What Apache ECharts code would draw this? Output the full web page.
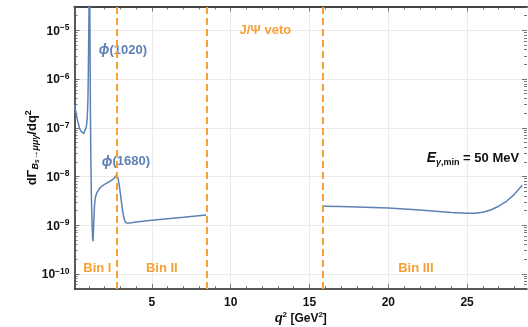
<!DOCTYPE html>
<html>
<head>
<meta charset="utf-8">
<script src="https://cdn.jsdelivr.net/npm/echarts@6/dist/echarts.min.js"></script>
<style>
html, body { margin: 0; padding: 0; background: #fff; }
#main { width: 528px; height: 327px; }
</style>
</head>
<body>
<div id="main"></div>
<script>
// q^2 in GeV^2, dGamma/dq^2
const q2Low = [0.09, 0.2, 0.3, 0.4, 0.5, 0.6, 0.68, 0.76, 0.84, 0.9, 0.94, 0.97, 1.0, 1.02, 1.04,
  1.06, 1.08, 1.1, 1.13, 1.16, 1.2, 1.24, 1.27, 1.31, 1.36, 1.42, 1.5, 1.6, 1.75, 1.9, 2.1, 2.3, 2.5,
  2.65, 2.76, 2.84, 2.92, 3.0, 3.08, 3.16, 3.24, 3.32, 3.45, 3.7, 4.0, 5.0, 6.0, 7.0, 8.45];
const rateLow = [3.0e-7, 1.9e-7, 1.35e-7, 1.0e-7, 8.5e-8, 7.8e-8, 7.6e-8, 8.2e-8, 1.05e-7, 1.6e-7, 3.5e-7, 1.5e-6, 1.2e-5, 6e-5, 1.5e-4,
  4e-5, 3e-6, 2e-7, 2e-8, 4e-9, 1.2e-9, 5.5e-10, 4.7e-10, 1.1e-9, 2.6e-9, 3.8e-9, 4.6e-9, 5.2e-9, 6.0e-9, 6.6e-9, 7.2e-9, 7.8e-9, 8.6e-9,
  9.6e-9, 1.07e-8, 9.5e-9, 7.0e-9, 4.5e-9, 2.8e-9, 1.8e-9, 1.35e-9, 1.15e-9, 1.1e-9, 1.12e-9, 1.16e-9, 1.27e-9, 1.36e-9, 1.45e-9, 1.62e-9];
const q2High = [15.9, 17, 18, 19, 20, 21, 22, 23, 24, 25, 25.5, 26, 26.5, 27, 27.5, 28, 28.5];
const rateHigh = [2.45e-9, 2.42e-9, 2.37e-9, 2.31e-9, 2.25e-9, 2.15e-9, 2.04e-9, 1.93e-9, 1.82e-9, 1.75e-9, 1.76e-9, 1.85e-9, 2.05e-9, 2.45e-9, 3.1e-9, 4.3e-9, 6.6e-9];

const binEdges = [2.8, 8.45, 15.83];
const xMajor = [5, 10, 15, 20, 25];
const xMinor = [1, 2, 3, 4, 6, 7, 8, 9, 11, 12, 13, 14, 16, 17, 18, 19, 21, 22, 23, 24, 26, 27, 28];
const yDecades = [-10, -9, -8, -7, -6, -5];

const blue = '#5e81b5';
const orange = '#f8a033';
const font = 'Liberation Sans, Arial, sans-serif';
const xMin = 0.09, xMax = 28.8, yMin = -10.31, yMax = -4.51;

let yMinor = [];
for (let n = -11; n <= -5; n++) {
    for (let k = 2; k <= 9; k++) {
        let v = n + Math.log10(k);
        if (v > yMin && v < yMax) yMinor.push(v);
    }
}

function toPoints(xs, ys) {
    return xs.map((q, i) => [q, Math.log10(ys[i])]);
}

function powLabel(v) {
    if (Math.abs(v - Math.round(v)) > 1e-6) return '';
    return '{b|10}{s|\u2212' + Math.abs(Math.round(v)) + '}';
}

function tickAxis(pos, values, len) {
    let vertical = pos === 'left' || pos === 'right';
    return {
        type: 'value', position: pos,
        min: vertical ? yMin : xMin,
        max: vertical ? yMax : xMax,
        axisLine: { show: false },
        axisLabel: { show: false },
        splitLine: { show: false },
        axisTick: { show: true, inside: true, length: len, customValues: values, lineStyle: { color: '#555', width: 0.8 } }
    };
}

let myChart = echarts.init(document.getElementById('main'));
myChart.setOption({
    animation: false,
    grid: { left: 74.5, right: 1, top: 6.5, bottom: 38, outerBoundsMode: 'none' },
    xAxis: [
        {
            type: 'value', min: xMin, max: xMax,
            name: '{i|q}{sup|2}{b| [GeV}{sup|2}{b|]}',
            nameLocation: 'middle', nameGap: 22, nameMoveOverlap: false,
            nameTextStyle: {
                rich: {
                    i: { fontFamily: font, fontSize: 13, fontWeight: 'bold', fontStyle: 'italic', color: '#111', lineHeight: 14, verticalAlign: 'bottom' },
                    b: { fontFamily: font, fontSize: 12, fontWeight: 'bold', color: '#111', lineHeight: 14, verticalAlign: 'bottom' },
                    sup: { fontFamily: font, fontSize: 8, fontWeight: 'bold', color: '#111', lineHeight: 14, verticalAlign: 'top' }
                }
            },
            axisLine: { show: true, lineStyle: { color: '#222', width: 1.5 } },
            axisTick: { show: true, inside: true, length: 5, customValues: xMajor, lineStyle: { color: '#555', width: 0.8 } },
            axisLabel: {
                customValues: xMajor, margin: 8,
                fontFamily: font, fontSize: 12, fontWeight: 'bold', color: '#111'
            },
            splitLine: { show: true, lineStyle: { color: '#ebebeb', width: 1 } }
        },
        tickAxis('bottom', xMinor, 3),
        Object.assign(tickAxis('top', xMajor, 5), { axisLine: { show: true, lineStyle: { color: '#444', width: 2 } } }),
        tickAxis('top', xMinor, 3)
    ],
    yAxis: [
        {
            type: 'value', min: yMin, max: yMax,
            name: '{b|d\u0393}{sub|B}{sub2|s}{sub|\u2192\u03bc\u03bc\u03b3}{b|/dq}{sup|2}',
            nameLocation: 'middle', nameGap: 34, nameRotate: 90, nameMoveOverlap: false,
            nameTextStyle: {
                rich: {
                    b: { fontFamily: font, fontSize: 13, fontWeight: 'bold', color: '#111', lineHeight: 16, verticalAlign: 'middle' },
                    sub: { fontFamily: font, fontSize: 9, fontWeight: 'bold', fontStyle: 'italic', color: '#111', lineHeight: 16, verticalAlign: 'bottom' },
                    sub2: { fontFamily: font, fontSize: 6.5, fontWeight: 'bold', fontStyle: 'italic', color: '#111', lineHeight: 14, verticalAlign: 'bottom' },
                    sup: { fontFamily: font, fontSize: 9, fontWeight: 'bold', color: '#111', lineHeight: 16, verticalAlign: 'top' }
                }
            },
            axisLine: { show: true, lineStyle: { color: '#222', width: 1.5 } },
            axisTick: { show: true, inside: true, length: 5, customValues: yDecades, lineStyle: { color: '#555', width: 0.8 } },
            axisLabel: {
                customValues: yDecades, margin: 5,
                formatter: powLabel,
                rich: {
                    b: { fontFamily: font, fontSize: 12, fontWeight: 'bold', color: '#111', lineHeight: 14, verticalAlign: 'bottom' },
                    s: { fontFamily: font, fontSize: 8.5, fontWeight: 'bold', color: '#111', lineHeight: 14, verticalAlign: 'top' }
                }
            },
            splitLine: { show: true, lineStyle: { color: '#ebebeb', width: 1 } }
        },
        tickAxis('left', yMinor, 3),
        tickAxis('right', yDecades, 5),
        tickAxis('right', yMinor, 3)
    ],
    series: [
        {
            type: 'line',
            data: toPoints(q2Low, rateLow),
            showSymbol: false,
            lineStyle: { color: blue, width: 1.5 },
            markLine: {
                silent: true,
                symbol: ['none', 'none'],
                label: { show: false },
                lineStyle: { color: orange, type: [7, 4], width: 2 },
                data: binEdges.map(v => ({ xAxis: v }))
            }
        },
        {
            type: 'line',
            data: toPoints(q2High, rateHigh),
            showSymbol: false,
            lineStyle: { color: blue, width: 1.5 }
        }
    ]
});

// annotations, placed in data coordinates
const notes = [
    { text: '{p|\u03d5}{t|(1020)}', q2: 3.16, y: -5.41, color: blue },
    { text: '{p|\u03d5}{t|(1680)}', q2: 3.35, y: -7.7, color: blue },
    { text: '{t|J/\u03a8 veto}', q2: 12.2, y: -5.0, color: orange },
    { text: '{t|Bin I}', q2: 1.54, y: -9.89, color: orange },
    { text: '{t|Bin II}', q2: 5.63, y: -9.89, color: orange },
    { text: '{t|Bin III}', q2: 21.75, y: -9.89, color: orange }
];
let graphics = notes.map(n => {
    let p = myChart.convertToPixel({ xAxisIndex: 0, yAxisIndex: 0 }, [n.q2, n.y]);
    return {
        type: 'text', x: p[0], y: p[1], silent: true,
        style: {
            text: n.text, align: 'center', verticalAlign: 'middle',
            rich: {
                p: { fontFamily: font, fontSize: 14, fontWeight: 'bold', fontStyle: 'italic', fill: n.color },
                t: { fontFamily: font, fontSize: 13, fontWeight: 'bold', fill: n.color }
            }
        }
    };
});
let ep = myChart.convertToPixel({ xAxisIndex: 0, yAxisIndex: 0 }, [28.3, -7.65]);
graphics.push({
    type: 'text', x: ep[0], y: ep[1], silent: true,
    style: {
        text: '{e|E}{g|\u03b3}{m|,min}{e2| = 50 MeV}',
        align: 'right', verticalAlign: 'middle',
        rich: {
            e: { fontFamily: font, fontSize: 14, fontWeight: 'bold', fontStyle: 'italic', fill: '#111', lineHeight: 16, verticalAlign: 'top' },
            g: { fontFamily: font, fontSize: 9, fontWeight: 'bold', fontStyle: 'italic', fill: '#111', lineHeight: 16, verticalAlign: 'bottom' },
            m: { fontFamily: font, fontSize: 9, fontWeight: 'bold', fill: '#111', lineHeight: 16, verticalAlign: 'bottom' },
            e2: { fontFamily: font, fontSize: 13, fontWeight: 'bold', fill: '#111', lineHeight: 16, verticalAlign: 'top' }
        }
    }
});
myChart.setOption({ graphic: graphics });
</script>
</body>
</html>
